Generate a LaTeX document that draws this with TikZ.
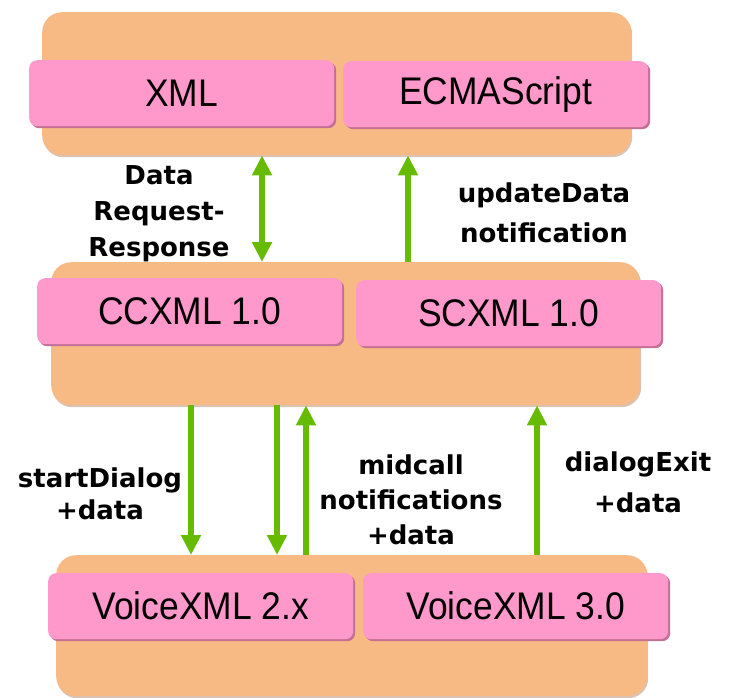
\documentclass[tikz,border=0pt]{standalone}
\usepackage{fontspec}
\setmainfont{Liberation Sans}
\newfontfamily\boxfont[FakeStretch=0.92]{Liberation Sans}
\newfontfamily\labfont{DejaVu Sans}
\usetikzlibrary{arrows.meta,shadows}
\definecolor{orangebg}{RGB}{248,186,132}
\definecolor{orangesh}{RGB}{200,170,150}
\definecolor{pinkfill}{RGB}{255,153,204}
\definecolor{pinkedge}{RGB}{196,112,150}
\definecolor{arrgreen}{RGB}{102,187,0}
\begin{document}
\begin{tikzpicture}[x=1pt,y=-1pt,
  layerbox/.style={fill=orangebg, rounded corners=20pt, anchor=north west, inner sep=0pt,
    minimum width=#1, minimum height=143pt,
    drop shadow={shadow xshift=1pt, shadow yshift=-2pt, fill=orangesh, opacity=0.7}},
  pinkbox/.style={fill=pinkfill, rounded corners=8pt, anchor=north west, inner sep=0pt,
    minimum width=305pt, minimum height=66pt, text=black,
    font=\boxfont\fontsize{38.5}{40}\selectfont,
    drop shadow={shadow xshift=2pt, shadow yshift=-2pt, fill=pinkedge, opacity=1}},
  lab/.style={font=\labfont\bfseries\fontsize{26}{#1}\selectfont, align=center, inner sep=0pt},
  arr/.style={draw=arrgreen, line width=6pt, -{Triangle[length=20pt,width=19pt]}},
  darr/.style={draw=arrgreen, line width=6pt, {Triangle[length=20pt,width=19pt]}-{Triangle[length=20pt,width=19pt]}},
]
\useasboundingbox (0,0) rectangle (729,697);
\fill[white] (0,0) rectangle (729,697);

% layer boxes
\node[layerbox=589pt] (top) at (42,12) {};
\node[layerbox=589pt] (mid) at (51,262) {};
\node[layerbox=591pt, minimum height=141pt] (bot) at (56,555) {};

% component boxes
\node[pinkbox] (xml)   at (29,60)  {XML};
\node[pinkbox] (ecma)  at (343,61) {ECMAScript};
\node[pinkbox] (ccxml) at (37,278) {CCXML 1.0};
\node[pinkbox] (scxml) at (356,280) {SCXML 1.0};
\node[pinkbox] (vx2)   at (48,573) {VoiceXML 2.x};
\node[pinkbox] (vx3)   at (363,573) {VoiceXML 3.0};

% connectors
\draw[darr] (top.south -| 262,0) -- (mid.north -| 262,0);
\draw[arr]  (mid.north -| 408,0) -- (top.south -| 408,0);
\draw[arr]  (mid.south -| 191,0) -- (bot.north -| 191,0);
\draw[arr]  (mid.south -| 277,0) -- (bot.north -| 277,0);
\draw[arr]  (bot.north -| 306,0) -- (mid.south -| 306,0);
\draw[arr]  (bot.north -| 537,0) -- (mid.south -| 537,0);

% labels
\node[lab=36] (l1) at (159,214) {Data\\Request-\\Response};
\node[lab=40] (l2) at (544,213) {updateData\\notification};
\node[lab=32] (l3) at (100,494) {startDialog\\+data};
\node[lab=35] (l4) at (411,500) {midcall\\notifications\\+data};
\node[lab=41] (l5) at (638,482) {dialogExit\\+data};
\end{tikzpicture}
\end{document}
